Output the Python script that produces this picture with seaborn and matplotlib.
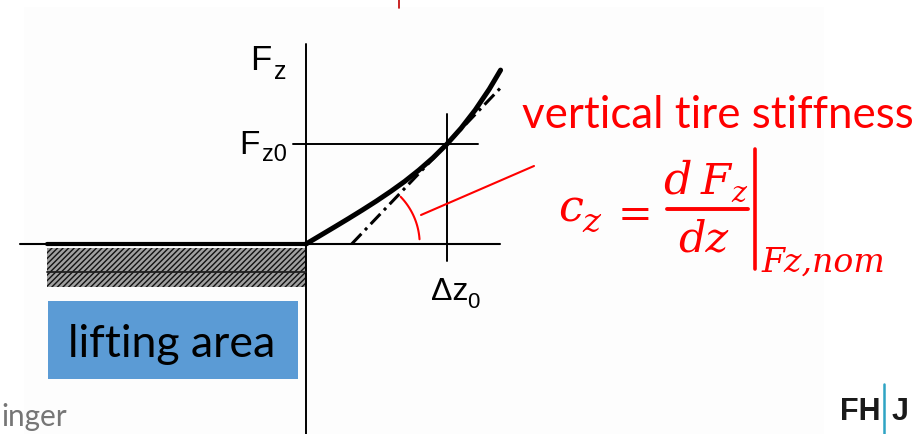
import matplotlib
matplotlib.use("Agg")
import matplotlib.pyplot as plt
import matplotlib.transforms as mtransforms
from matplotlib.patches import Rectangle
import numpy as np
import pandas as pd
import seaborn as sns

# Tire characteristic: deflection z (in units of Δz0) and vertical force Fz (in units of Fz0)
deflection = [0.0, 0.1, 0.2, 0.3, 0.4, 0.5, 0.6, 0.7, 0.8, 0.9, 1.0, 1.1, 1.2, 1.3, 1.38]
vertical_force = [0.0, 0.084, 0.168, 0.253, 0.340, 0.430, 0.525, 0.626, 0.738, 0.861,
                  1.0, 1.158, 1.340, 1.549, 1.739]

# Wheel lifted off the road: no vertical force for negative deflection
lift_deflection = [-1.84, 0.0]
lift_force = [0.0, 0.0]

# Tangent at the nominal operating point (dash-dot line)
tangent_deflection = [0.324, 1.38]
tangent_force = [0.0, 1.562]

# Nominal operating point
dz0 = 1.0
fz0 = 1.0

W, H = 922, 435
ORIGIN_PX = (306, 245)
PX_PER_Z = 141.0
PX_PER_F = 100.0

sns.set_theme(style="white")
plt.rcParams["font.family"] = ["Liberation Sans", "DejaVu Sans"]
plt.rcParams["hatch.linewidth"] = 1.0

fig = plt.figure(figsize=(W / 100, H / 100), dpi=100)
fig.patch.set_facecolor("white")
ax = fig.add_axes([0, 0, 1, 1])
ax.set_facecolor("white")

# slide layout coordinates: pixels, origin top-left
pix = mtransforms.Affine2D().scale(1 / W, -1 / H).translate(0, 1) + fig.transFigure


def zx(px):
    return (px - ORIGIN_PX[0]) / PX_PER_Z


def fy(py):
    return (ORIGIN_PX[1] - py) / PX_PER_F


RED = "#ff0000"

# faint slide background panel
ax.add_patch(Rectangle((24, 8), 800, 430, transform=pix, facecolor="#fdfdfd",
                       edgecolor="none", zorder=0))

# coordinate axes and reference lines
ax.plot([zx(20), zx(500)], [0, 0], color="black", lw=1.5, zorder=2)
ax.plot([0, 0], [fy(45), fy(440)], color="black", lw=1.4, zorder=2)
ax.plot([zx(293), zx(478)], [fz0, fz0], color="black", lw=1.4, zorder=2)
ax.plot([dz0, dz0], [fy(115), fy(262)], color="black", lw=1.4, zorder=2)

# lifting side: thick zero-force line and hatched road block
sns.lineplot(x=lift_deflection, y=lift_force, ax=ax, color="black", lw=3.0,
             sort=False, estimator=None, zorder=3)
ax.add_patch(Rectangle((47, 249), 259, 39, transform=pix, facecolor="#a0a0a0",
                       edgecolor="#111111", hatch="//////", lw=0, zorder=1))
ax.plot([zx(47), 0], [fy(273), fy(273)], color="#202020", lw=1.3, zorder=2)

# characteristic curve
curve = pd.DataFrame({"z": deflection, "Fz": vertical_force})
sns.lineplot(data=curve, x="z", y="Fz", ax=ax, color="black", lw=3.6,
             sort=False, estimator=None, zorder=4)
ax.lines[-1].set_solid_capstyle("round")

# tangent at the nominal point
sns.lineplot(x=tangent_deflection, y=tangent_force, ax=ax, color="black", lw=2.2,
             sort=False, estimator=None, zorder=3)
ax.lines[-1].set_dashes([4.6, 1.7, 1.0, 1.7])

# slope angle arc and leader line
theta = np.radians(np.linspace(4, 44, 40))
r_px = 68
ax.plot(tangent_deflection[0] + r_px * np.cos(theta) / PX_PER_Z,
        r_px * np.sin(theta) / PX_PER_F, color=RED, lw=1.5, zorder=5)
ax.plot([zx(421), zx(534)], [fy(216), fy(167)], color=RED, lw=1.5, zorder=5)

ax.set_xlim(zx(0), zx(W))
ax.set_ylim(fy(H), fy(0))
ax.axis("off")

# axis labels
ax.text(250, 70, "F", transform=pix, fontsize=25, color="black", va="baseline")
ax.text(274, 79, "z", transform=pix, fontsize=18, color="black", va="baseline")
ax.text(239, 154, "F", transform=pix, fontsize=24, color="black", va="baseline")
ax.text(262, 161, "z0", transform=pix, fontsize=17, color="black", va="baseline")
ax.text(431, 300, "\u0394z", transform=pix, fontsize=23, color="black", va="baseline")
ax.text(467, 308, "0", transform=pix, fontsize=16, color="black", va="baseline")

renderer = fig.canvas.get_renderer()


def fit_text(x, y, s, width_px, **kw):
    t = ax.text(x, y, s, transform=pix, va="baseline", **kw)
    w = t.get_window_extent(renderer).width
    t.set_fontsize(t.get_fontsize() * width_px / w)
    return t


# slide texts
fit_text(522, 128, "vertical tire stiffness", 390, fontsize=30, color=RED,
         family=["Lato", "DejaVu Sans"])
ax.add_patch(Rectangle((48, 302), 250, 78, transform=pix, facecolor="#5b9bd5",
                       edgecolor="none", zorder=6))
fit_text(68, 357, "lifting area", 207, fontsize=30, color="black",
         family=["Lato", "DejaVu Sans"], zorder=7)
fit_text(1, 426, "inger", 66, fontsize=20, color="#767676",
         family=["Lato", "DejaVu Sans"])

# stiffness formula
math_kw = dict(color=RED, family="DejaVu Serif", style="italic")
fit_text(558, 222, "c", 25, fontsize=30, **math_kw)
fit_text(582, 232, "z", 18, fontsize=22, **math_kw)
ax.text(635, 212, "=", transform=pix, fontsize=30, color=RED, family="DejaVu Serif",
        ha="center", va="center_baseline")
ax.text(663, 194, "d", transform=pix, fontsize=32, va="baseline", **math_kw)
fit_text(701, 194, "F", 30, fontsize=30, **math_kw)
fit_text(731, 202, "z", 15, fontsize=18, **math_kw)
ax.plot([zx(667), zx(748)], [fy(210), fy(210)], color=RED, lw=2.8, zorder=5)
fit_text(678, 252, "dz", 50, fontsize=30, **math_kw)
ax.plot([zx(754.5), zx(754.5)], [fy(150), fy(270)], color=RED, lw=2.6, zorder=5)
fit_text(761, 272, "Fz,nom", 124, fontsize=24, **math_kw)

# logo and slide marks
ax.text(840, 420, "FH", transform=pix, fontsize=22, color="#1a1a1a", weight="bold",
        va="baseline")
ax.plot([zx(884), zx(884)], [fy(385), fy(440)], color="#2fa4c4", lw=1.8)
ax.text(892, 420, "J", transform=pix, fontsize=22, color="#1a1a1a", weight="bold",
        va="baseline")
ax.plot([zx(398.5), zx(398.5)], [fy(0), fy(9)], color="#c00000", lw=1.2)

fig.savefig("out.png", dpi=100, facecolor="white")
